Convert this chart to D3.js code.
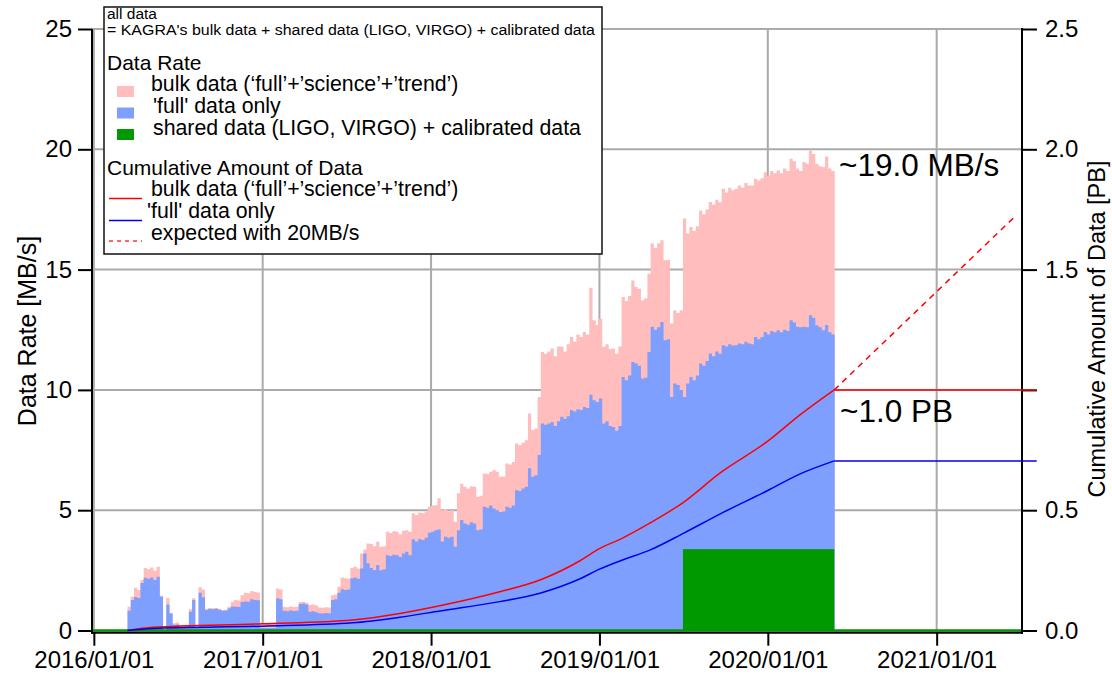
<!DOCTYPE html>
<html>
<head>
<meta charset="utf-8">
<script src="https://cdn.jsdelivr.net/npm/d3@7"></script>
<style>
  body { margin: 0; background: #fff; }
  svg { font-family: "Liberation Sans", Arial, Helvetica, sans-serif; }
</style>
</head>
<body>
<svg id="chart"></svg>
<script>
// weekly data rate [MB/s], first week starts 2016-03-14
const weekStart = "2016-03-14";
const bulkRate = [
  0.99, 1.4, 1.78, 1.68, 2.1, 2.6, 2.55, 2.62, 2.48, 2.65,
  1.45, 0, 1.35, 0.32, 0.3, 0.33, 0.23, 0.22, 0.24, 0.88,
  1.34, 0.15, 1.8, 1.7, 0.9, 0.93, 0.92, 0.94, 0.9, 0.85,
  0.86, 0.99, 1.2, 1.27, 1.25, 1.47, 1.57, 1.55, 1.64, 1.6,
  1.58, 0.32, 0.3, 0.32, 0.31, 0.3, 1.75, 1.7, 0.99, 0.97,
  1.0, 0.98, 0.99, 1.18, 1.2, 1.15, 1.06, 1.08, 1.04, 0.96,
  0.95, 0.97, 0.96, 1.47, 1.5, 1.82, 2.2, 2.17, 2.15, 2.6,
  2.65, 2.58, 3.2, 3.37, 3.62, 3.6, 3.5, 3.69, 3.48, 3.5,
  4.1, 4.05, 4.12, 4.1, 4.0, 4.15, 4.17, 4.1, 4.87, 4.8,
  4.9, 4.87, 4.95, 5.14, 5.2, 5.21, 5.5, 5.0, 5.05, 4.95,
  5.0, 4.52, 5.7, 6.1, 5.97, 5.9, 6.0, 5.97, 5.56, 5.6,
  6.53, 6.5, 6.6, 6.67, 6.6, 6.39, 6.4, 6.94, 6.9, 7.0,
  7.77, 7.7, 7.8, 7.91, 9.02, 8.33, 8.4, 9.71, 11.58, 11.5,
  11.6, 11.72, 11.4, 11.8, 11.79, 11.6, 11.9, 12.2, 12.0, 12.3,
  12.2, 12.41, 12.3, 14.25, 12.9, 12.7, 12.96, 11.79, 11.9, 11.7,
  11.72, 11.5, 11.8, 13.86, 13.7, 13.9, 14.55, 14.28, 14.2, 13.72,
  13.8, 14.83, 16.08, 15.9, 16.1, 16.22, 15.39, 15.4, 12.76, 13.31,
  13.2, 13.31, 17.12, 16.5, 16.77, 16.6, 16.8, 17.46, 17.3, 17.5,
  17.81, 17.7, 17.9, 17.8, 18.36, 18.2, 18.4, 18.3, 18.36, 18.5,
  18.4, 18.6, 18.5, 18.5, 18.78, 18.7, 18.8, 19.05, 18.9, 19.1,
  19.0, 19.12, 19.0, 19.2, 19.1, 19.61, 19.5, 19.2, 19.1, 19.47,
  19.4, 19.95, 19.8, 19.4, 19.3, 19.26, 19.7, 19.2, 19.1
];
const fullRate = [
  0.82, 1.27, 1.39, 1.35, 1.97, 2.19, 2.15, 2.2, 2.1, 2.23,
  1.4, 0, 1.08, 0.72, 0.24, 0.25, 0.16, 0.15, 0.17, 0.78,
  1.27, 0.1, 1.57, 1.38, 0.85, 0.89, 0.88, 0.9, 0.86, 0.82,
  0.83, 0.92, 1.0, 0.99, 0.98, 1.18, 1.21, 1.2, 1.3, 1.27,
  1.26, 0.1, 0.1, 0.1, 0.1, 0.1, 1.34, 1.3, 0.82, 0.8,
  0.83, 0.81, 0.82, 1.1, 1.12, 1.08, 0.78, 0.8, 0.76, 0.72,
  0.71, 0.73, 0.72, 1.27, 1.3, 1.57, 1.71, 1.68, 1.7, 2.17,
  2.2, 2.15, 2.58, 3.2, 2.79, 2.6, 2.51, 2.72, 2.5, 2.55,
  3.13, 3.1, 3.15, 3.13, 3.05, 3.2, 3.27, 3.13, 3.79, 3.7,
  3.8, 3.76, 3.85, 4.06, 4.1, 4.17, 4.2, 3.7, 3.9, 3.85,
  3.9, 3.48, 4.17, 4.59, 4.45, 4.4, 4.5, 4.45, 4.17, 4.2,
  5.14, 5.1, 5.2, 5.07, 5.0, 4.93, 4.95, 5.14, 5.1, 5.2,
  5.83, 5.8, 5.9, 5.97, 6.74, 6.39, 6.45, 7.29, 8.6, 8.55,
  8.6, 8.67, 8.5, 8.7, 8.88, 8.8, 8.9, 9.16, 9.1, 9.2,
  9.16, 9.29, 9.25, 9.8, 9.57, 9.5, 9.64, 8.6, 8.7, 8.5,
  8.46, 8.3, 8.5, 10.54, 10.4, 10.6, 11.16, 11.1, 11.0, 10.47,
  10.5, 11.58, 12.62, 12.5, 12.6, 12.82, 12.06, 12.1, 9.71, 10.27,
  10.2, 10.0, 9.71, 10.27, 10.54, 10.4, 10.6, 11.1, 11.0, 11.2,
  11.51, 11.4, 11.6, 11.5, 11.86, 11.8, 11.9, 11.85, 11.86, 11.93,
  11.9, 12.0, 11.93, 11.9, 12.2, 12.1, 12.2, 12.41, 12.3, 12.45,
  12.4, 12.48, 12.4, 12.5, 12.45, 12.9, 12.8, 12.62, 12.6, 12.62,
  12.6, 13.1, 13.0, 12.69, 12.6, 12.48, 12.7, 12.4, 12.3
];

// shared data (LIGO, VIRGO) + calibrated data
const sharedStart = "2019-07-01";
const sharedEnd = "2020-05-24";
const sharedRate = 3.38;

// cumulative amount [PB]
const cumulDates = ["2016-03-14", "2016-05-08", "2017-01-01", "2017-07-15", "2017-10-25",
  "2018-01-20", "2018-05-30", "2018-08-25", "2018-11-20", "2019-01-01", "2019-02-20",
  "2019-04-20", "2019-07-03", "2019-09-19", "2020-01-01", "2020-03-10", "2020-05-24"];
const cumulBulk = [0, 0.013, 0.028, 0.044, 0.071, 0.103, 0.161, 0.21, 0.29, 0.34, 0.384,
  0.446, 0.534, 0.654, 0.787, 0.895, 1.0];
const cumulFull = [0, 0.008, 0.018, 0.032, 0.055, 0.081, 0.12, 0.155, 0.215, 0.255, 0.293,
  0.334, 0.405, 0.484, 0.582, 0.65, 0.705];
const flatEnd = "2021-08-06";
const expectedDates = ["2020-05-24", "2021-06-21"];
const expectedAmount = [1.0, 1.723];

const yearTicks = ["2016-01-01", "2017-01-01", "2018-01-01", "2019-01-01", "2020-01-01", "2021-01-01"];
const rateTicks = [0, 5, 10, 15, 20, 25];
const amountTicks = [0, 0.5, 1.0, 1.5, 2.0, 2.5];

const parseDate = d3.timeParse("%Y-%m-%d");

class DataRateChart {
  constructor(_config) {
    this.config = {
      parentElement: _config.parentElement,
      containerWidth: _config.containerWidth || 1112,
      containerHeight: _config.containerHeight || 675,
      left: 92, right: 1022, top: 29, zeroY: 630.5, axisY: 632.7
    };
    this.initVis();
  }

  initVis() {
    let vis = this;
    let c = vis.config;

    vis.svg = d3.select(c.parentElement)
      .attr('width', c.containerWidth)
      .attr('height', c.containerHeight);

    vis.xScale = d3.scaleTime()
      .domain([parseDate("2015-12-28"), parseDate("2021-07-05")])
      .range([c.left, c.right]);
    vis.yRate = d3.scaleLinear().domain([0, 25]).range([c.zeroY, c.top]);
    vis.yAmount = d3.scaleLinear().domain([0, 2.5]).range([c.zeroY, c.top]);

    vis.renderVis();
  }

  renderVis() {
    let vis = this;
    let c = vis.config;
    let x = vis.xScale, y = vis.yRate, y2 = vis.yAmount;

    // grid
    let grid = vis.svg.append('g').attr('stroke', '#aaaaaa').attr('stroke-width', 2);
    grid.selectAll('.vgrid').data(yearTicks).join('line')
      .attr('x1', d => x(parseDate(d))).attr('x2', d => x(parseDate(d)))
      .attr('y1', c.top).attr('y2', c.zeroY);
    grid.selectAll('.hgrid').data(rateTicks.slice(1)).join('line')
      .attr('x1', c.left).attr('x2', c.right)
      .attr('y1', d => y(d)).attr('y2', d => y(d));

    // weekly rates as step areas
    const week = i => d3.timeDay.offset(parseDate(weekStart), 7 * i);
    const toSteps = arr => arr.map((v, i) => ({date: week(i), v: v}))
      .concat([{date: week(arr.length), v: arr[arr.length - 1]}]);
    const area = d3.area().curve(d3.curveStepAfter)
      .x(d => x(d.date)).y0(y(0)).y1(d => y(d.v));

    vis.svg.append('path').datum(toSteps(bulkRate))
      .attr('fill', '#ffbdbd').attr('d', area);
    vis.svg.append('path').datum(toSteps(fullRate))
      .attr('fill', '#7f9fff').attr('d', area);

    // shared + calibrated
    vis.svg.append('rect')
      .attr('x', x(parseDate(sharedStart)))
      .attr('width', x(parseDate(sharedEnd)) - x(parseDate(sharedStart)))
      .attr('y', y(sharedRate))
      .attr('height', y(0) - y(sharedRate))
      .attr('fill', '#009900');
    vis.svg.append('line')
      .attr('x1', c.left).attr('x2', c.right)
      .attr('y1', y(0)).attr('y2', y(0))
      .attr('stroke', '#009900').attr('stroke-width', 2.5);

    // axes
    let axisLeft = vis.svg.append('g')
      .attr('transform', `translate(${c.left},0)`)
      .call(d3.axisLeft(y).tickValues(rateTicks).tickSize(14).tickPadding(6).tickSizeOuter(0));
    let axisRight = vis.svg.append('g')
      .attr('transform', `translate(${c.right},0)`)
      .call(d3.axisRight(y2).tickValues(amountTicks).tickSize(15).tickPadding(8).tickSizeOuter(0)
        .tickFormat(d => d === 1.0 ? '' : d3.format('.1f')(d)));
    let axisBottom = vis.svg.append('g')
      .attr('transform', `translate(0,${c.axisY})`)
      .call(d3.axisBottom(x).tickValues(yearTicks.map(parseDate))
        .tickFormat(d3.timeFormat('%Y/%m/%d')).tickSize(13).tickPadding(5).tickSizeOuter(0));

    [axisLeft, axisRight, axisBottom].forEach(g => {
      g.select('.domain').remove();
      g.selectAll('.tick line').attr('stroke', '#000').attr('stroke-width', 2);
      g.selectAll('.tick text').attr('font-size', 24).attr('fill', '#000')
        .attr('font-family', '"Liberation Sans", Arial, sans-serif');
    });

    let frame = vis.svg.append('g').attr('stroke', '#000').attr('stroke-width', 2);
    frame.append('line').attr('x1', c.left).attr('x2', c.left).attr('y1', c.top).attr('y2', c.axisY + 1);
    frame.append('line').attr('x1', c.right).attr('x2', c.right).attr('y1', c.top - 1).attr('y2', c.axisY + 1);
    frame.append('line').attr('x1', c.left - 1).attr('x2', c.right + 1).attr('y1', c.axisY).attr('y2', c.axisY);

    // cumulative lines (drawn over the right axis ticks, as in the original)
    const line = d3.line().curve(d3.curveMonotoneX)
      .x(d => x(d.date)).y(d => y2(d.v));
    const cumul = (vals) => cumulDates.map((d, i) => ({date: parseDate(d), v: vals[i]}));

    [[cumulBulk, '#ff0000'], [cumulFull, '#0000ee']].forEach(([vals, col]) => {
      vis.svg.append('path').datum(cumul(vals))
        .attr('fill', 'none').attr('stroke', col).attr('stroke-width', 1.5)
        .attr('d', line);
      let last = vals[vals.length - 1];
      vis.svg.append('line')
        .attr('x1', x(parseDate(cumulDates[cumulDates.length - 1])))
        .attr('x2', x(parseDate(flatEnd)))
        .attr('y1', y2(last)).attr('y2', y2(last))
        .attr('stroke', col).attr('stroke-width', 1.5);
    });

    vis.svg.append('path')
      .datum(expectedDates.map((d, i) => ({date: parseDate(d), v: expectedAmount[i]})))
      .attr('fill', 'none').attr('stroke', '#ff0000').attr('stroke-width', 1.5)
      .attr('stroke-dasharray', '6,5')
      .attr('d', d3.line().x(d => x(d.date)).y(d => y2(d.v)));

    // axis titles
    vis.svg.append('text')
      .attr('transform', 'translate(36,331) rotate(-90)')
      .attr('text-anchor', 'middle').attr('font-size', 25)
      .text('Data Rate [MB/s]');
    vis.svg.append('text')
      .attr('transform', 'translate(1105,329) rotate(-90)')
      .attr('text-anchor', 'middle').attr('font-size', 23.5)
      .text('Cumulative Amount of Data [PB]');

    // annotations
    vis.svg.append('text').attr('x', 839).attr('y', 176).attr('font-size', 31.5).text('~19.0 MB/s');
    vis.svg.append('text').attr('x', 840).attr('y', 422).attr('font-size', 31.5).text('~1.0 PB');

    vis.renderLegend();
  }

  renderLegend() {
    let vis = this;
    let lg = vis.svg.append('g');
    lg.append('rect').attr('x', 104).attr('y', 7).attr('width', 498).attr('height', 247)
      .attr('fill', '#fff').attr('stroke', '#111').attr('stroke-width', 1.5);

    lg.append('text').attr('x', 107).attr('y', 18.5).attr('font-size', 15.5).text('all data');
    lg.append('text').attr('x', 107).attr('y', 34.5).attr('font-size', 15.5)
      .attr('textLength', 488).attr('lengthAdjust', 'spacingAndGlyphs')
      .text("= KAGRA's bulk data + shared data (LIGO, VIRGO) + calibrated data");

    lg.append('text').attr('x', 107).attr('y', 70).attr('font-size', 21).text('Data Rate');
    const swatches = [
      ['#ffbdbd', 86, 151, 91, 'bulk data (‘full’+’science’+’trend’)'],
      ['#7f9fff', 107.5, 153, 113, "'full' data only"],
      ['#009900', 129, 153, 135, 'shared data (LIGO, VIRGO) + calibrated data']
    ];
    swatches.forEach(([col, sy, tx, ty, label]) => {
      lg.append('rect').attr('x', 117).attr('y', sy).attr('width', 17).attr('height', 11).attr('fill', col);
      lg.append('text').attr('x', tx).attr('y', ty).attr('font-size', 21.3).text(label);
    });

    lg.append('text').attr('x', 107).attr('y', 175).attr('font-size', 21).text('Cumulative Amount of Data');
    const lines = [
      ['#ff0000', 198.5, null, 151, 196, 'bulk data (‘full’+’science’+’trend’)'],
      ['#0000ee', 220.5, null, 147, 218, "'full' data only"],
      ['#ff3333', 241, '4,4', 151, 240, 'expected with 20MB/s']
    ];
    lines.forEach(([col, ly, dash, tx, ty, label]) => {
      lg.append('line').attr('x1', 109).attr('x2', 142).attr('y1', ly).attr('y2', ly)
        .attr('stroke', col).attr('stroke-width', 1.5).attr('stroke-dasharray', dash);
      lg.append('text').attr('x', tx).attr('y', ty).attr('font-size', 21.3).text(label);
    });
  }
}

let chart = new DataRateChart({parentElement: '#chart'});
</script>
</body>
</html>
